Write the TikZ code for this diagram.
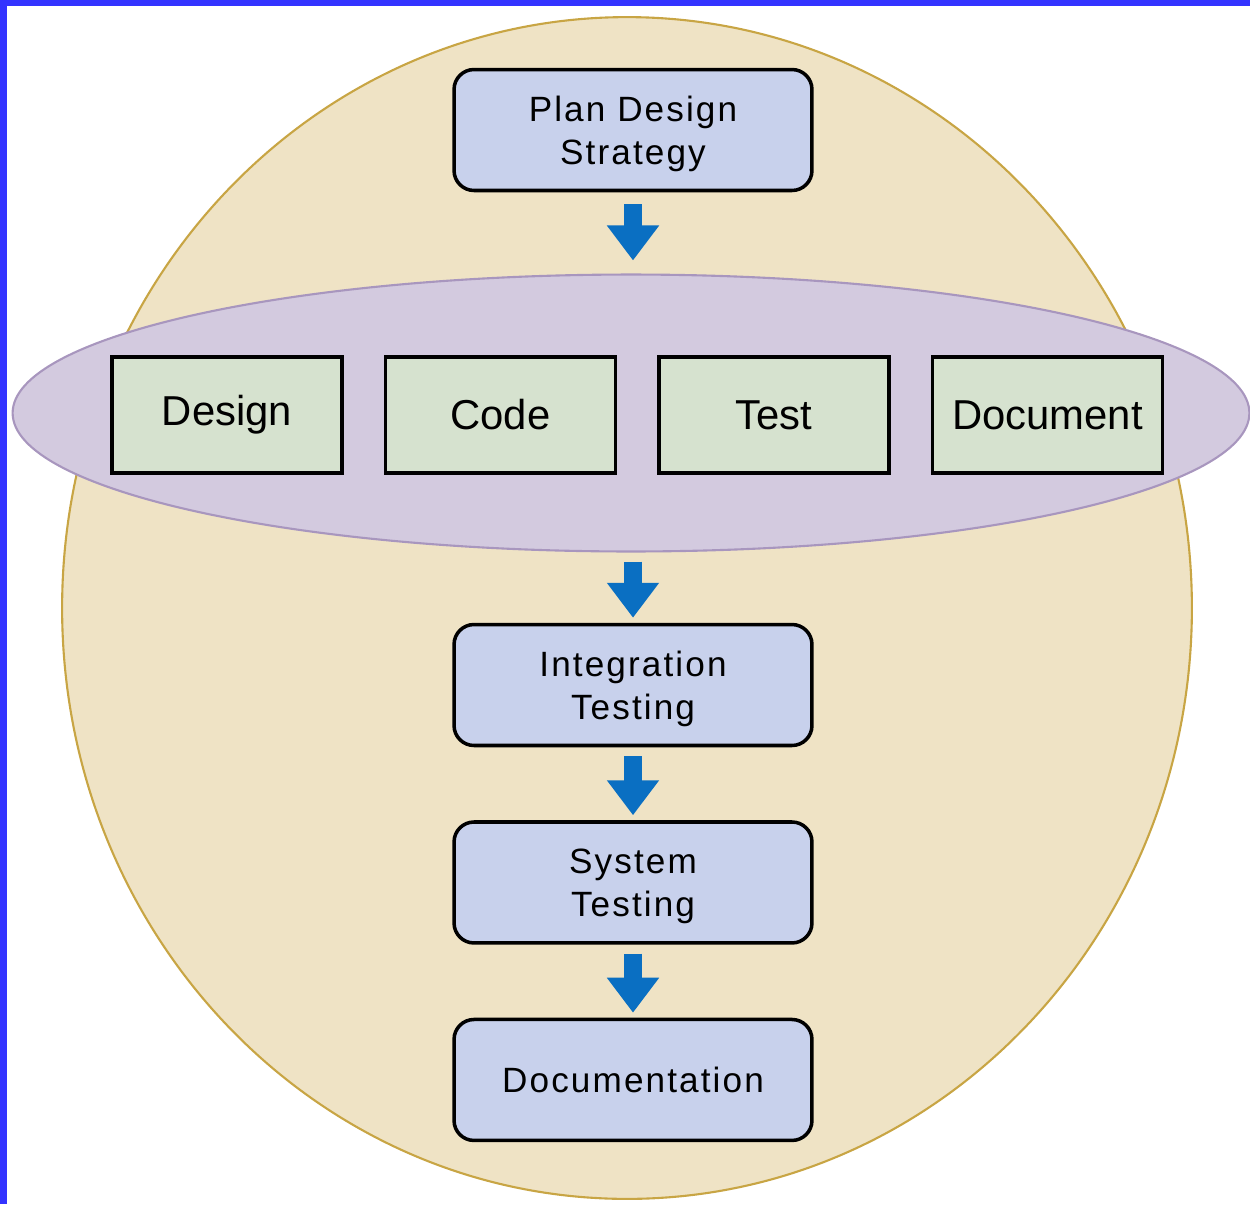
\documentclass[tikz,border=0pt]{standalone}
\usepackage{fontspec}
\setmainfont{Liberation Sans}
\newfontfamily\stagefont[LetterSpace=6]{Liberation Sans}
\usetikzlibrary{arrows.meta,positioning,shapes.geometric}

\definecolor{frameblue}{HTML}{3333FF}
\definecolor{roundfill}{HTML}{EFE3C5}
\definecolor{rounddraw}{HTML}{C8A544}
\definecolor{loopfill}{HTML}{D3CADF}
\definecolor{loopdraw}{HTML}{A896BE}
\definecolor{stagefill}{HTML}{C8D1EC}
\definecolor{taskfill}{HTML}{D6E2CF}
\definecolor{arrowblue}{HTML}{0A6FC2}

\begin{document}
\begin{tikzpicture}[x=0.02cm,y=-0.02cm,
  stage/.style={draw,rounded corners=0.4cm,line width=2pt,fill=stagefill,
    minimum width=7.16cm,minimum height=2.42cm,align=center,
    font=\stagefont\fontsize{20}{24.4}\selectfont,text depth=0pt},
  task/.style={draw,line width=2pt,fill=taskfill,
    minimum width=4.6cm,minimum height=2.32cm,
    font=\fontsize{23.8}{28}\selectfont},
  flow/.style={line width=0.36cm,draw=arrowblue,
    -{Triangle[width=1cm,length=0.7cm]},shorten <=0.18cm,shorten >=0.1cm}]

            \useasboundingbox (0,0) rectangle (1250,1204);

            \fill[frameblue] (0,0) rectangle (7,1204);

            \fill[frameblue] (0,0) rectangle (1250,6);

            \node[ellipse,fill=roundfill,draw=rounddraw,line width=1.2pt,
                  minimum width=22.6cm,minimum height=23.64cm] (round) at (627,608) {};

            \node[ellipse,fill=loopfill,draw=loopdraw,line width=1.2pt,
                  minimum width=24.74cm,minimum height=5.54cm] (phases) at (631,413) {};

            \node[stage] (plan) at (633,130) {Plan Design\\Strategy};

            \node[task] (design) at (227,415) {Design};

            \node[task] (code) [right=0.8cm of design] {Code};

            \node[task] (test) [right=0.8cm of code] {Test};

            \node[task] (doc) [right=0.8cm of test] {Document};

            \node[stage] (integ) at (633,685) {Integration\\Testing};

            \node[stage] (system) [below=1.46cm of integ] {System\\Testing};

            \node[stage] (docu) [below=1.46cm of system] {Documentation};

            

            \draw[flow,shorten <=0.24cm,shorten >=0.26cm] (plan) -- (phases.north -| plan);

            \draw[flow] (phases.south -| integ) -- (integ);

            \draw[flow] (integ) -- (system);

            \draw[flow] (system) -- (docu);

        \end{tikzpicture}
\end{document}
